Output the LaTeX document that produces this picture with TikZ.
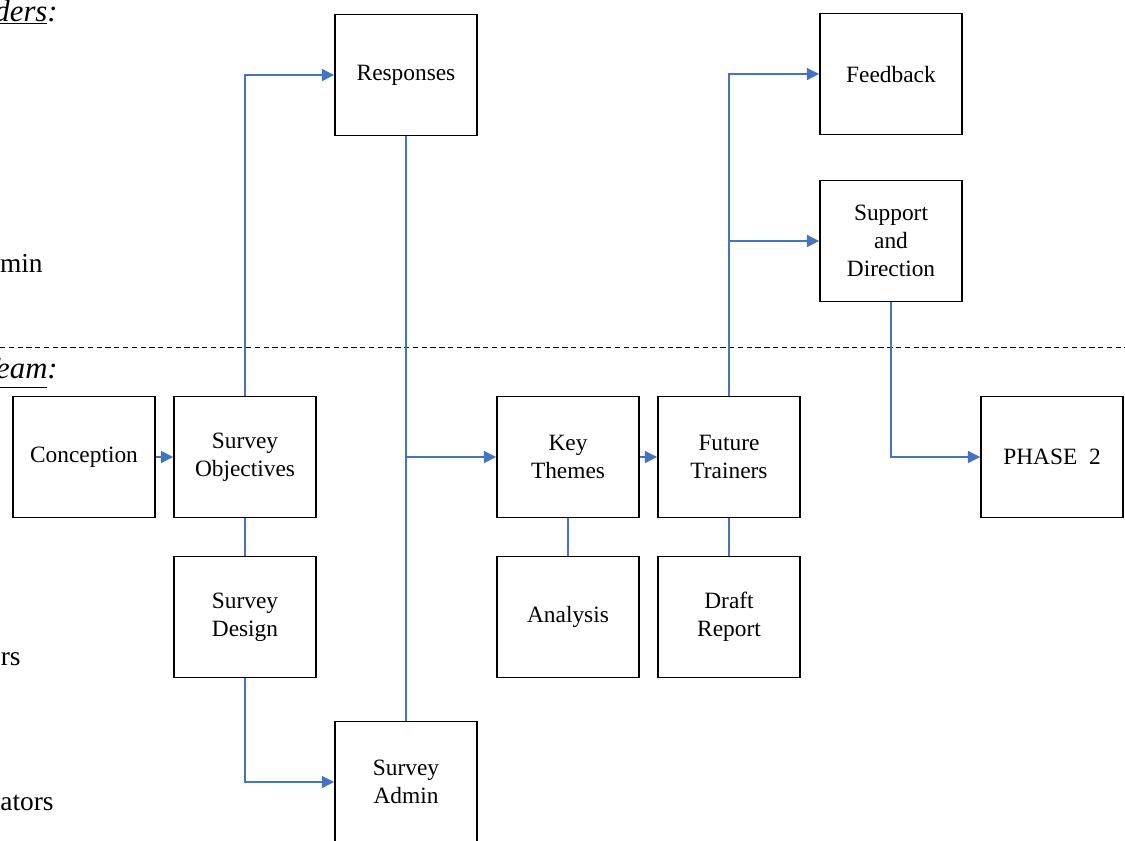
\documentclass[tikz,border=0pt]{standalone}
\usepackage{fontspec}
\setmainfont{Liberation Serif}
\usetikzlibrary{arrows.meta}
\definecolor{linkblue}{HTML}{4472C4}

\begin{document}
\begin{tikzpicture}[x=0.02cm,y=-0.02cm,
    box/.style={draw,line width=1.1pt,minimum width=2.84cm,minimum height=2.42cm,
      align=center,inner sep=2pt,font=\fontsize{13.3}{15.9}\selectfont},
    link/.style={draw=linkblue,line width=0.6pt},
    flow/.style={link,-{Triangle[length=7pt,width=7pt]}},
    side/.style={anchor=base east,inner sep=0pt,font=\fontsize{15.6}{18}\selectfont},
    lane/.style={side,font=\fontsize{17.5}{20}\selectfont}]
      \useasboundingbox (0,0) rectangle (1125,840);

      % lane labels, cut off at the left edge
      \node[lane] (stake) at (58,21) {\underline{\textit{Stakeholders}}\textit{:}};
      \node[side] (stadmin) at (43,272) {Admin};
      \node[lane] (team) at (58,378) {\underline{\textit{Project Team}}\textit{:}};
      \node[side] (research) at (21,665) {Researchers};
      \node[side] (educ) at (54,810) {Educators};
      \draw[line width=0.5pt,dash pattern=on 3pt off 2pt] (0,347) -- (1125,347);

      % stakeholders
      \node[box] (resp) at (406,75) {Responses};
      \node[box] (feedback) at (891,74) {Feedback};
      \node[box] (support) at (891,241) {Support\\and\\Direction};

      % project team
      \node[box] (concep) at (84,457) {Conception};
      \node[box] (obj) at (245,457) {Survey\\Objectives};
      \node[box] (themes) at (568,457) {Key\\Themes};
      \node[box] (trainers) at (729,457) {Future\\Trainers};
      \node[box] (phase) at (1052,457) {PHASE\ \ 2};
      \node[box] (design) at (245,617) {Survey\\Design};
      \node[box] (analysis) at (568,617) {Analysis};
      \node[box] (draft) at (729,617) {Draft\\Report};
      \node[box] (admin) at (406,782) {Survey\\Admin};

      \coordinate (split) at (406,457);
      \coordinate (fork) at (729,241);

      \draw[flow] (concep) -- (obj);
      \draw[flow] (obj.north) |- (resp.west);
      \draw[link] (obj) -- (design);
      \draw[flow] (design.south) |- (admin.west);
      \draw[link] (admin) -- (resp);
      \draw[flow] (split) -- (themes);
      \draw[flow] (themes) -- (trainers);
      \draw[link] (themes) -- (analysis);
      \draw[link] (trainers) -- (draft);
      \draw[flow] (trainers.north) |- (feedback.west);
      \draw[flow] (fork) -- (support);
      \draw[flow] (support.south) |- (phase.west);
    \end{tikzpicture}
\end{document}
